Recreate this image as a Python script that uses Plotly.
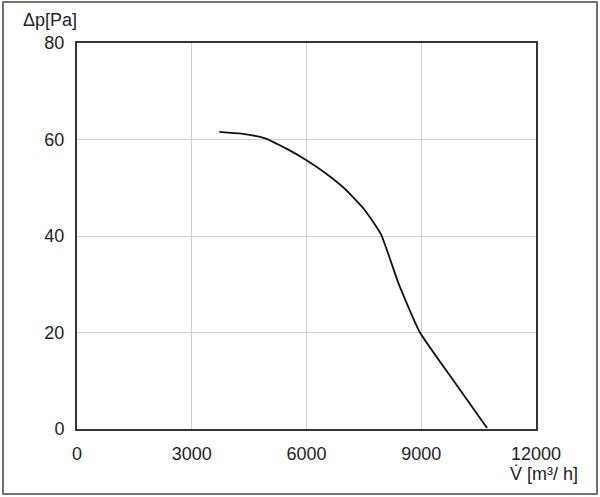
import plotly.graph_objects as go

flow = [3720, 4300, 4900, 5500, 6000, 6500, 7000, 7500, 7950, 8400, 8960, 9800, 10720]
pressure = [61.6, 61.2, 60.3, 58.0, 55.7, 53.0, 49.8, 45.6, 40.3, 30.3, 20.1, 10.5, 0.2]
x_ticks = [0, 3000, 6000, 9000, 12000]
y_ticks = [0, 20, 40, 60, 80]

font = dict(family="Liberation Sans, Arial, sans-serif", size=18, color="#222222")

fig = go.Figure()
fig.add_trace(go.Scatter(x=flow, y=pressure, mode="lines",
                         line=dict(color="#111111", width=1.8, shape="spline", smoothing=0.5),
                         showlegend=False, hoverinfo="skip"))

L, R, T, B = 77, 536, 43, 429
W, H = 600, 497
pw, ph = R - L, B - T

fig.update_layout(
    width=W, height=H,
    margin=dict(l=L, r=W - R, t=T, b=H - B),
    paper_bgcolor="white", plot_bgcolor="white",
    font=font,
    xaxis=dict(range=[0, 12000], tickvals=x_ticks, ticktext=[str(v) for v in x_ticks],
               showgrid=True, gridcolor="#cfcfcf", gridwidth=1.2, zeroline=False,
               showline=True, linecolor="#333333", linewidth=2, mirror=True,
               ticks="outside", ticklen=7, tickcolor="rgba(0,0,0,0)", tickfont=font),
    yaxis=dict(range=[0, 80], tickvals=y_ticks, ticktext=[str(v) for v in y_ticks],
               showgrid=True, gridcolor="#cfcfcf", gridwidth=1.2, zeroline=False,
               showline=True, linecolor="#333333", linewidth=2, mirror=True,
               ticks="outside", ticklen=7, tickcolor="rgba(0,0,0,0)", tickfont=font),
    shapes=[dict(type="rect", xref="paper", yref="paper",
                 x0=(3 - L) / pw, x1=(597 - L) / pw,
                 y0=(B - 494) / ph, y1=(B - 2) / ph,
                 line=dict(color="#444444", width=1.5), fillcolor="rgba(0,0,0,0)", layer="below")],
    annotations=[
        dict(text="\u0394p[Pa]", xref="paper", yref="paper", x=(21 - L) / pw, y=(B - 20) / ph,
             xanchor="left", yanchor="middle", showarrow=False, font=font),
        dict(text="V\u0307 [m\u00b3/ h]", xref="paper", yref="paper", x=(580 - L) / pw, y=(B - 474) / ph,
             xanchor="right", yanchor="middle", showarrow=False, font=font),
    ],
)

fig.write_html("out.html")
